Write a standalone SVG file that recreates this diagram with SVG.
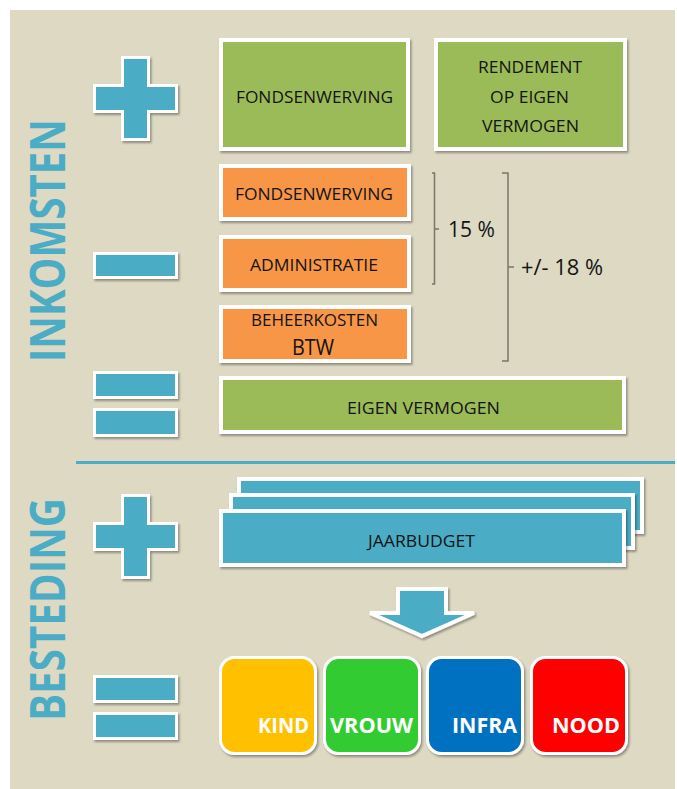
<svg xmlns="http://www.w3.org/2000/svg" width="677" height="789" viewBox="0 0 677 789">
  <defs>
    <filter id="sh" x="-10%" y="-10%" width="130%" height="140%">
      <feDropShadow dx="1.5" dy="2" stdDeviation="1.2" flood-color="#000" flood-opacity="0.35"/>
    </filter>
    <style>
      .box { stroke: #fff; stroke-width: 4; filter: url(#sh); }
      .green { fill: #9bbb59; }
      .orange { fill: #f79646; }
      .blue { fill: #4bacc6; }
      .sign { fill: #4bacc6; stroke: #fff; stroke-width: 3; filter: url(#sh); }
      .tile { stroke: #fff; stroke-width: 3; filter: url(#sh); }
      .lbl { font-family: "Open Sans", "Liberation Sans", sans-serif; font-size: 16px; fill: #141414; }
      .big { font-family: "Open Sans", "Liberation Sans", sans-serif; font-size: 21px; fill: #141414; }
      .side { font-family: "Open Sans", "Liberation Sans", sans-serif; font-size: 49px; font-weight: bold; fill: #4bacc6; }
      .tl { font-family: "Open Sans", "Liberation Sans", sans-serif; font-size: 22px; font-weight: bold; fill: #fff; }
      .br { fill: none; stroke: #7d7665; stroke-width: 1.5; }
    </style>
  </defs>

  <rect x="10" y="10" width="665" height="779" fill="#ddd9c3"/>
  <line x1="76" y1="462.5" x2="675" y2="462.5" stroke="#4bacc6" stroke-width="3"/>

  <g id="title-inkomsten">
    <text class="side" transform="translate(65,362) rotate(-90)" textLength="243" lengthAdjust="spacingAndGlyphs">INKOMSTEN</text>
  </g>
  <g id="title-besteding">
    <text class="side" transform="translate(65,721) rotate(-90)" textLength="223" lengthAdjust="spacingAndGlyphs">BESTEDING</text>
  </g>

  <g id="plus-1">
    <path class="sign" d="M122.5,57.5 H148.5 V85.5 H176.5 V111.5 H148.5 V139.5 H122.5 V111.5 H94.5 V85.5 H122.5 Z"/>
  </g>
  <g id="minus">
    <rect class="sign" x="94.5" y="253.5" width="82" height="24"/>
  </g>
  <g id="equals-1">
    <rect class="sign" x="94.5" y="372.5" width="82" height="25"/>
    <rect class="sign" x="94.5" y="409.5" width="82" height="26"/>
  </g>
  <g id="plus-2">
    <path class="sign" transform="translate(0,438)" d="M122.5,57.5 H148.5 V85.5 H176.5 V111.5 H148.5 V139.5 H122.5 V111.5 H94.5 V85.5 H122.5 Z"/>
  </g>
  <g id="equals-2">
    <rect class="sign" x="94.5" y="676.5" width="82" height="25"/>
    <rect class="sign" x="94.5" y="713.5" width="82" height="25"/>
  </g>

  <g id="fondsenwerving-in">
    <rect class="box green" x="221" y="40" width="187" height="109"/>
    <text class="lbl" x="236" y="103" textLength="157" lengthAdjust="spacingAndGlyphs">FONDSENWERVING</text>
  </g>
  <g id="rendement">
    <rect class="box green" x="436" y="40" width="189" height="109"/>
    <text class="lbl" x="478" y="73" textLength="104" lengthAdjust="spacingAndGlyphs">RENDEMENT</text>
    <text class="lbl" x="490" y="103" textLength="79" lengthAdjust="spacingAndGlyphs">OP EIGEN</text>
    <text class="lbl" x="482" y="132" textLength="97" lengthAdjust="spacingAndGlyphs">VERMOGEN</text>
  </g>
  <g id="fondsenwerving-cost">
    <rect class="box orange" x="221" y="166" width="188" height="53"/>
    <text class="lbl" x="235" y="200" textLength="158" lengthAdjust="spacingAndGlyphs">FONDSENWERVING</text>
  </g>
  <g id="administratie">
    <rect class="box orange" x="221" y="237" width="188" height="53"/>
    <text class="lbl" x="250" y="271" textLength="128" lengthAdjust="spacingAndGlyphs">ADMINISTRATIE</text>
  </g>
  <g id="beheerkosten">
    <rect class="box orange" x="221" y="307" width="188" height="54"/>
    <text class="lbl" x="251" y="326" textLength="127" lengthAdjust="spacingAndGlyphs">BEHEERKOSTEN</text>
    <text class="big" x="292" y="355" textLength="42" lengthAdjust="spacingAndGlyphs">BTW</text>
  </g>
  <g id="eigen-vermogen">
    <rect class="box green" x="221" y="378" width="403" height="54"/>
    <text class="lbl" x="347" y="414" textLength="153" lengthAdjust="spacingAndGlyphs">EIGEN VERMOGEN</text>
  </g>

  <g id="connectors">
    <path class="br" d="M432,173 H434.5 V284 H432 M434.5,229 H439"/>
    <path class="br" d="M502,173 H508 V361 H502 M508,267 H514"/>
    <path d="M398,589 H446 V613 H474 L422,636 L370,613 H398 Z" fill="#4bacc6" stroke="#fff" stroke-width="4" stroke-linejoin="miter" filter="url(#sh)"/>
  </g>
  <g id="pct-15">
    <text class="big" x="448" y="237" textLength="47" lengthAdjust="spacingAndGlyphs">15 %</text>
  </g>
  <g id="pct-18">
    <text class="big" x="521" y="275" textLength="82" lengthAdjust="spacingAndGlyphs">+/- 18 %</text>
  </g>

  <g id="jaarbudget">
    <rect class="box blue" x="239" y="479" width="403" height="53"/>
    <rect class="box blue" x="231" y="495" width="402" height="53"/>
    <rect class="box blue" x="221" y="511" width="403" height="54"/>
    <text class="lbl" x="368" y="547" textLength="107" lengthAdjust="spacingAndGlyphs">JAARBUDGET</text>
  </g>

  <g id="kind">
    <rect class="tile" x="220.5" y="657.5" width="95" height="96" rx="14" fill="#ffc000"/>
    <text class="tl" x="258" y="733" textLength="51" lengthAdjust="spacingAndGlyphs">KIND</text>
  </g>
  <g id="vrouw">
    <rect class="tile" x="324.5" y="657.5" width="95" height="96" rx="14" fill="#33cc33"/>
    <text class="tl" x="330" y="733" textLength="83" lengthAdjust="spacingAndGlyphs">VROUW</text>
  </g>
  <g id="infra">
    <rect class="tile" x="427.5" y="657.5" width="95" height="96" rx="14" fill="#0070c0"/>
    <text class="tl" x="452" y="733" textLength="65" lengthAdjust="spacingAndGlyphs">INFRA</text>
  </g>
  <g id="nood">
    <rect class="tile" x="531.5" y="657.5" width="95" height="96" rx="14" fill="#ff0000"/>
    <text class="tl" x="552" y="733" textLength="68" lengthAdjust="spacingAndGlyphs">NOOD</text>
  </g>
</svg>
